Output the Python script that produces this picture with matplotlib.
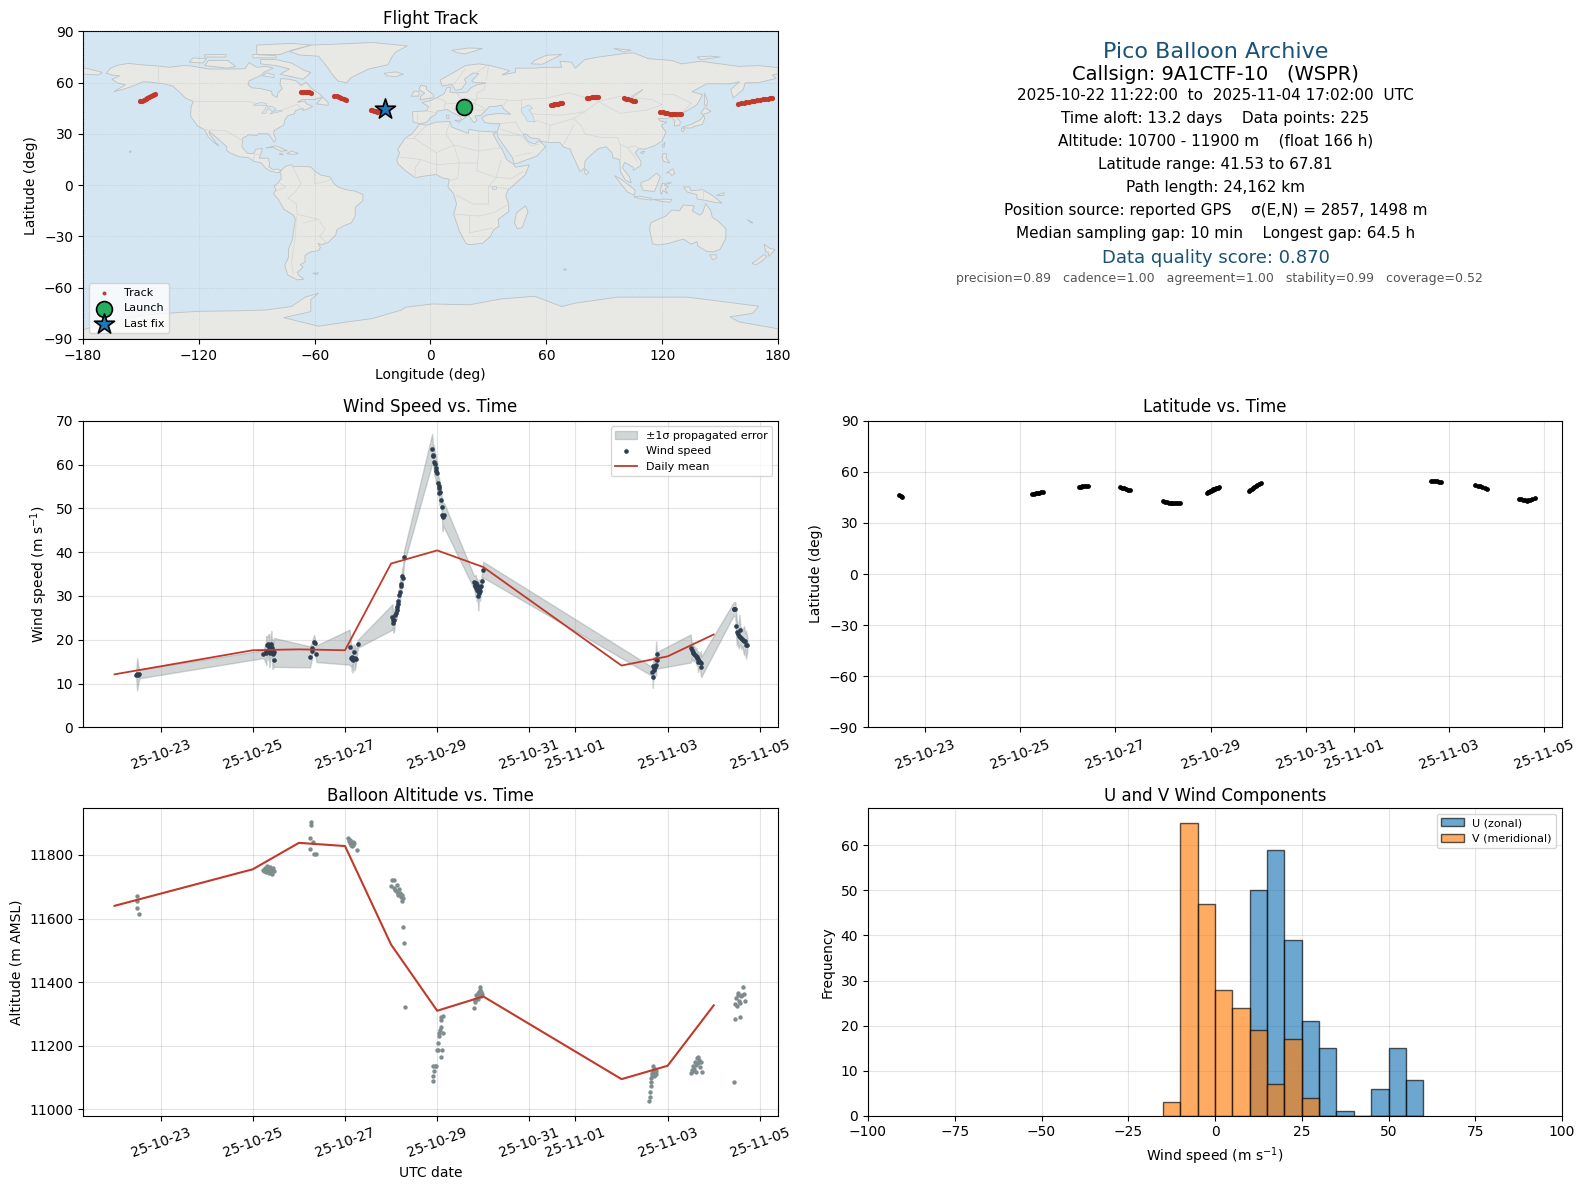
import datetime as dt
import numpy as np
import matplotlib
matplotlib.use("Agg")
import matplotlib.pyplot as plt
import matplotlib.dates as mdates
from matplotlib.patches import Polygon

W, H = 1586, 1189

# all times are days since 2025-10-22 00:00 UTC
wind_t = [0.47, 0.49, 0.51, 0.54,
          3.23, 3.29, 3.29, 3.31, 3.32, 3.34, 3.35, 3.36, 3.37, 3.38, 3.39, 3.40, 3.41, 3.42, 3.43, 3.44, 3.45, 3.46,
          4.24, 4.28, 4.29, 4.33, 4.34, 4.38,
          5.10, 5.14, 5.15, 5.16, 5.17, 5.18, 5.20, 5.21, 5.23, 5.28,
          6.03, 6.04, 6.05, 6.07, 6.08, 6.10, 6.12, 6.13, 6.15, 6.16, 6.18, 6.19, 6.21, 6.22, 6.24, 6.25, 6.28,
          6.89, 6.91, 6.92, 6.94, 6.95, 6.97, 6.98, 7.00, 7.01, 7.03, 7.04, 7.05, 7.07, 7.09, 7.10, 7.11, 7.12, 7.13, 7.15,
          7.80, 7.82, 7.83, 7.84, 7.85, 7.86, 7.87, 7.88, 7.89, 7.90, 7.91, 7.92, 7.93, 7.95, 7.97, 8.00,
          11.67, 11.68, 11.69, 11.70, 11.71, 11.72, 11.73, 11.74, 11.75, 11.76, 11.77,
          12.50, 12.52, 12.54, 12.56, 12.58, 12.60, 12.62, 12.63, 12.64, 12.65, 12.66, 12.68, 12.70, 12.72, 12.73,
          13.43, 13.45, 13.47, 13.49, 13.50, 13.52, 13.54, 13.56, 13.58, 13.60, 13.62, 13.64, 13.66, 13.68, 13.70, 13.73]
wind_v = [12.0, 12.1, 12.0, 12.2,
          16.7, 17.0, 17.5, 18.9, 19.1, 18.3, 18.9, 17.2, 16.9, 17.6, 18.5, 19.0, 18.2, 17.3, 16.7, 16.9, 15.4, 17.1,
          16.1, 17.4, 18.2, 19.5, 19.3, 16.8,
          18.3, 15.9, 15.5, 16.0, 15.7, 15.4, 17.3, 15.8, 15.7, 19.1,
          25.2, 24.4, 23.8, 24.6, 25.6, 26.2, 26.8, 27.4, 28.2, 28.9, 30.2, 30.8, 32.7, 32.2, 34.6, 34.2, 38.9,
          63.6, 62.3, 61.9, 60.6, 60.2, 59.2, 58.6, 58.0, 55.7, 55.0, 54.6, 53.4, 53.8, 51.8, 50.3, 48.6, 48.2, 48.0, 48.4,
          33.1, 32.6, 32.2, 33.0, 31.8, 31.4, 32.4, 31.2, 30.1, 30.7, 31.5, 32.0, 31.1, 32.2, 33.5, 36.0,
          12.7, 11.4, 14.0, 13.6, 13.2, 14.0, 13.7, 14.2, 15.7, 16.8, 15.3,
          18.0, 17.6, 17.3, 17.0, 16.8, 16.5, 16.3, 16.0, 15.8, 15.5, 15.0, 15.2, 15.0, 14.6, 13.8,
          27.0, 27.0, 27.0, 23.1, 21.7, 21.3, 20.8, 22.3, 20.6, 20.4, 20.2, 20.0, 19.8, 19.6, 18.9, 18.9]
wind_sigma = [1.0, 3.7, 2.2, 1.0,
              0.9, 2.5, 3.3, 2.0, 1.5, 3.0, 2.4, 3.4, 2.2, 1.8, 2.6, 3.0, 2.1, 2.8, 3.4, 2.6, 1.8, 3.3,
              2.4, 1.8, 1.5, 1.6, 1.3, 1.9,
              4.0, 2.2, 2.8, 1.6, 3.2, 1.5, 1.6, 2.8, 1.8, 0.9,
              2.9, 1.5, 2.2, 2.4, 1.4, 1.8, 2.0, 1.6, 1.5, 2.2, 1.6, 2.3, 1.8, 1.3, 1.9, 1.4, 1.4,
              3.4, 2.0, 2.6, 3.2, 2.4, 3.2, 2.2, 2.8, 2.5, 1.8, 2.4, 2.6, 1.7, 1.8, 1.6, 2.6, 3.4, 2.0, 2.8,
              1.5, 2.0, 2.4, 1.8, 1.5, 2.6, 1.4, 2.0, 3.4, 2.2, 1.6, 1.8, 2.2, 1.3, 1.5, 1.8,
              1.0, 2.4, 1.6, 2.6, 1.4, 1.5, 1.4, 2.0, 3.9, 1.2, 1.9,
              3.2, 1.6, 2.2, 1.4, 1.8, 1.2, 1.9, 1.4, 1.7, 1.5, 2.4, 1.6, 1.4, 2.8, 2.3,
              1.5, 1.6, 1.6, 2.6, 3.0, 1.8, 2.8, 3.4, 2.0, 2.5, 1.7, 2.6, 3.3, 1.8, 3.2, 1.6]

day_t = [0, 3, 4, 5, 6, 7, 8, 11, 12, 13]
day_wind = [12.1, 17.6, 17.8, 17.6, 37.4, 40.4, 36.6, 14.1, 16.2, 21.2]
day_alt = [11640, 11755, 11838, 11828, 11518, 11310, 11355, 11095, 11137, 11327]

alt_t = [0.48, 0.49, 0.49, 0.54,
         3.21, 3.24, 3.26, 3.28, 3.30, 3.31, 3.32, 3.34, 3.35, 3.37, 3.38, 3.39, 3.41, 3.42, 3.44, 3.46,
         4.27, 4.27, 4.25, 4.31, 4.23, 4.33, 4.36,
         5.07, 5.08, 5.10, 5.11, 5.13, 5.14, 5.15, 5.16, 5.17, 5.18, 5.20, 5.27,
         5.99, 6.03, 6.06, 6.06, 6.09, 6.13, 6.13, 6.16, 6.18, 6.20, 6.21, 6.23, 6.25, 6.24, 6.25, 6.28, 6.30,
         6.91, 6.92, 6.93, 6.91, 6.95, 6.98, 6.99, 7.01, 7.02, 7.03, 7.05, 7.06, 7.08, 7.09, 7.13, 7.08, 7.13, 7.08, 7.11,
         7.80, 7.82, 7.83, 7.85, 7.86, 7.88, 7.89, 7.90, 7.91, 7.92, 7.93, 7.94, 7.95, 7.97,
         11.59, 11.61, 11.62, 11.63, 11.64, 11.65, 11.66, 11.67, 11.68, 11.69, 11.70, 11.71, 11.72, 11.73, 11.74, 11.75,
         12.50, 12.52, 12.54, 12.55, 12.57, 12.59, 12.61, 12.62, 12.64, 12.65, 12.67, 12.69, 12.70, 12.72, 12.74,
         13.44, 13.46, 13.47, 13.48, 13.50, 13.52, 13.53, 13.55, 13.56, 13.58, 13.60, 13.62, 13.63, 13.65, 13.67]
alt_v = [11670, 11655, 11632, 11614,
         11752, 11748, 11758, 11745, 11765, 11755, 11748, 11760, 11742, 11750, 11762, 11745, 11739, 11753, 11760, 11750,
         11903, 11893, 11852, 11840, 11820, 11802, 11802,
         11852, 11844, 11838, 11848, 11830, 11842, 11835, 11828, 11840, 11832, 11836, 11815,
         11702, 11720, 11722, 11695, 11690, 11705, 11682, 11675, 11692, 11680, 11668, 11675, 11664, 11655, 11573, 11523, 11322,
         11088, 11105, 11120, 11137, 11137, 11137, 11187, 11187, 11208, 11230, 11240, 11250, 11260, 11280, 11293, 11290, 11240, 11165, 11187,
         11318, 11338, 11345, 11360, 11352, 11365, 11348, 11370, 11362, 11375, 11385, 11368, 11355, 11362,
         11027, 11040, 11056, 11072, 11087, 11100, 11108, 11115, 11125, 11135, 11105, 11118, 11108, 11128, 11112, 11120,
         11115, 11125, 11122, 11135, 11128, 11150, 11138, 11118, 11160, 11145, 11165, 11155, 11132, 11150, 11118,
         11086, 11284, 11330, 11350, 11325, 11360, 11366, 11340, 11335, 11291, 11355, 11360, 11385, 11362, 11342]

track_t = [0.46, 0.50, 0.53,
           3.25, 3.29, 3.33, 3.37, 3.41, 3.45, 3.48,
           4.24, 4.28, 4.31, 4.34, 4.38, 4.42,
           5.10, 5.14, 5.18, 5.22, 5.26, 5.30,
           6.00, 6.04, 6.08, 6.12, 6.16, 6.20, 6.24, 6.28, 6.32, 6.36,
           6.92, 6.94, 6.96, 6.98, 7.00, 7.02, 7.04, 7.06, 7.08, 7.10, 7.12, 7.14, 7.16, 7.17,
           7.80, 7.83, 7.86, 7.89, 7.92, 7.95, 7.98, 8.01, 8.05,
           11.63, 11.67, 11.71, 11.75, 11.79, 11.83,
           12.55, 12.60, 12.65, 12.70, 12.75, 12.80,
           13.48, 13.52, 13.56, 13.60, 13.64, 13.66, 13.70, 13.75, 13.80]
track_lat = [46.4, 45.8, 45.2,
             47.0, 47.1, 47.4, 47.5, 47.8, 47.9, 48.0,
             51.0, 51.3, 51.5, 51.6, 51.7, 51.9,
             51.0, 50.7, 50.3, 50.0, 49.5, 49.1,
             43.0, 42.6, 42.3, 42.0, 41.9, 41.8, 41.6, 41.6, 41.6, 41.7,
             47.5, 47.9, 48.2, 48.6, 48.9, 49.2, 49.5, 49.8, 50.0, 50.2, 50.4, 50.6, 50.8, 51.0,
             49.0, 49.5, 50.0, 50.6, 51.0, 51.6, 52.2, 52.7, 53.3,
             54.6, 54.6, 54.5, 54.4, 54.3, 54.2,
             52.4, 52.0, 51.6, 51.2, 50.6, 50.0,
             44.1, 43.8, 43.5, 43.2, 43.1, 43.2, 43.6, 44.0, 44.4]
track_lon = [17.0, 17.2, 17.4,
             62.3, 63.2, 64.2, 65.1, 66.1, 67.0, 67.9,
             81.0, 82.2, 83.4, 84.6, 85.8, 87.0,
             100.0, 101.2, 102.4, 103.6, 104.8, 106.0,
             119.0, 120.2, 121.4, 122.6, 123.8, 125.0, 126.2, 127.4, 128.6, 130.0,
             159.5, 160.8, 162.2, 163.6, 165.0, 166.4, 167.8, 169.2, 170.6, 172.0, 173.4, 174.8, 176.0, 177.0,
             -150.6, -149.6, -148.6, -147.6, -146.6, -145.6, -144.6, -143.6, -142.6,
             -67.0, -66.0, -65.0, -64.0, -63.0, -62.0,
             -49.8, -48.6, -47.4, -46.2, -45.0, -44.0,
             -31.0, -30.2, -29.4, -28.6, -27.8, -27.0, -26.0, -25.0, -24.0]
launch = (17.3, 45.8)
last_fix = (-23.8, 44.3)

hist_edges = [-15, -10, -5, 0, 5, 10, 15, 20, 25, 30, 35, 40, 45, 50, 55]
u_counts = [0, 0, 0, 0, 0, 50, 59, 39, 21, 15, 1, 0, 6, 15, 8]
v_counts = [3, 65, 47, 28, 24, 19, 7, 17, 4, 0, 0, 0, 0, 0, 0]

tick_days = [1, 3, 5, 7, 9, 10, 12, 14]

info_lines = [("Pico Balloon Archive", 51, 16, "#1a5276"),
              ("Callsign: 9A1CTF-10   (WSPR)", 74, 14, "black"),
              ("2025-10-22 11:22:00  to  2025-11-04 17:02:00  UTC", 94, 11, "black"),
              ("Time aloft: 13.2 days    Data points: 225", 117, 11, "black"),
              ("Altitude: 10700 - 11900 m    (float 166 h)", 139, 11, "black"),
              ("Latitude range: 41.53 to 67.81", 163, 11, "black"),
              ("Path length: 24,162 km", 185, 11, "black"),
              ("Position source: reported GPS    \u03c3(E,N) = 2857, 1498 m", 208, 11, "black"),
              ("Median sampling gap: 10 min    Longest gap: 64.5 h", 231, 11, "black"),
              ("Data quality score: 0.870", 255, 13, "#1a5276"),
              ("  precision=0.89   cadence=1.00   agreement=1.00   stability=0.99   coverage=0.52", 275, 9, "#555555")]

# rough coastlines, lon/lat
land = [
    # north america
    [(-168, 65.5), (-166, 68.3), (-162, 70.2), (-156.5, 71.3), (-150, 70.5), (-141, 69.7), (-135, 69), (-128, 70), (-124, 69.8),
     (-115, 68), (-108, 68), (-102, 68), (-96, 68.2), (-94, 71.8), (-90, 69), (-85, 69.5), (-81.5, 68.5), (-86, 66.3), (-88, 64.2),
     (-94, 61), (-94.5, 58.8), (-92.5, 57), (-88, 56.5), (-82.3, 55), (-82, 52.9), (-79.5, 51.3), (-79, 54), (-76.8, 56.5), (-78, 59),
     (-77.5, 62.4), (-73, 62), (-69.5, 61), (-67, 58.3), (-64.5, 60.3), (-61.5, 56.5), (-57, 53), (-56, 51.7), (-60, 50.2), (-66.5, 50.2),
     (-69, 48.5), (-65, 49.2), (-64.5, 47.8), (-61, 46), (-64, 44.5), (-66, 43.7), (-66, 45), (-70, 43.7), (-70.5, 41.8), (-74, 40.6),
     (-75.5, 38), (-76, 35.2), (-78, 33.9), (-81, 32), (-81.3, 30), (-80, 26.8), (-81, 25.2), (-82.7, 28), (-84, 30), (-89, 30.2),
     (-90, 29.1), (-94, 29.5), (-97.2, 27.6), (-97.7, 22.5), (-95, 18.7), (-91.5, 18.5), (-90.5, 21), (-87, 21.5), (-88, 18), (-88.8, 15.8),
     (-84, 15.8), (-83.3, 12.5), (-83.7, 10.8), (-81.5, 9), (-79.5, 9.5), (-77.3, 8.6), (-78.3, 7.5), (-80.5, 7.5), (-83, 8.3), (-85.5, 10),
     (-87.5, 13), (-91.5, 14), (-94.5, 16.2), (-99, 16.6), (-104, 19), (-105.6, 20.5), (-105.5, 22.5), (-109, 26), (-112.5, 29.5),
     (-114.7, 31.7), (-114.5, 30), (-111, 24.5), (-109.5, 23), (-112, 24.8), (-115, 28), (-117, 32.5), (-120.5, 34.5), (-122.5, 37.5),
     (-124.3, 40.3), (-124, 46), (-122.8, 49), (-127, 51), (-130, 54.5), (-133.5, 58), (-138, 59.3), (-145, 60.3), (-149, 60.5), (-152, 59),
     (-158, 56.5), (-164, 54.7), (-158, 58.8), (-162, 59.8), (-165, 62), (-161, 64), (-165, 64.5)],
    # greenland
    [(-73, 78.3), (-68, 76.2), (-58, 75.5), (-54, 70), (-51, 65), (-48, 61), (-43.5, 59.9), (-41, 63), (-32, 68), (-22, 70.5), (-20, 75),
     (-18, 78), (-12, 81.5), (-30, 83.5), (-50, 82.5), (-62, 82)],
    # arctic canada
    [(-80, 73.5), (-72, 71.5), (-65, 67), (-62, 66), (-66, 62), (-72, 63.5), (-78, 65), (-73, 68), (-80, 70), (-88, 71), (-88, 73.5)],
    [(-117, 70), (-105, 68.5), (-101, 69.5), (-105, 73), (-115, 73)],
    [(-125, 72), (-118, 71.5), (-116, 74), (-123, 74.5)],
    [(-90, 76.5), (-78, 76.5), (-72, 79), (-62, 82), (-72, 83), (-90, 82)],
    [(-92, 74.5), (-80, 74.5), (-80, 75.8), (-92, 76.5)],
    [(-117, 75), (-106, 75), (-106, 76.5), (-117, 76.3)],
    [(-87, 64), (-81, 63), (-81, 64.5), (-85, 65.8)],
    [(-59, 47.6), (-53, 46.7), (-53, 48.5), (-56, 51.5)],
    # caribbean and hawaii
    [(-85, 21.8), (-80, 23), (-74.2, 20.2), (-77.5, 19.9), (-82, 22.4)],
    [(-74.4, 18.4), (-72, 20), (-68.4, 18.6), (-71, 18)],
    [(-78.3, 18.4), (-76.3, 18.2), (-77, 17.8)],
    [(-156, 20.2), (-155, 19.7), (-155.7, 19)],
    # south america
    [(-77.3, 8.6), (-75.5, 10.8), (-72, 12.2), (-71.5, 10.8), (-68, 11), (-62, 10.7), (-60, 8.4), (-57, 6), (-52, 4.8), (-50, 1), (-48, -1),
     (-44, -2.6), (-39, -3.5), (-35, -5.5), (-35, -9), (-39, -13), (-39, -18), (-41, -22), (-45, -23.8), (-48.5, -26), (-49, -29),
     (-53, -33.5), (-56.5, -34.8), (-58.3, -34), (-57, -36.5), (-58, -38.3), (-62, -39), (-65, -41), (-65, -45), (-67.5, -46.5), (-66, -48),
     (-69, -51), (-68.3, -52.7), (-65.5, -55), (-69, -55.4), (-74, -52.5), (-75.5, -47), (-73.5, -42), (-73.5, -37), (-71.5, -32), (-71, -27),
     (-70, -20), (-71, -17.5), (-76, -14), (-79, -8), (-81.3, -5), (-80, -2.5), (-81, -0.5), (-78.8, 1.5), (-77.3, 4), (-77.5, 7), (-78.3, 7.5)],
    [(-61, -51.5), (-58, -51.3), (-59, -52.3)],
    # africa
    [(-5.8, 35.8), (-2, 35.1), (3, 36.9), (10, 37.3), (11, 34), (15, 32.3), (19.5, 30.3), (20, 32.7), (25, 31.7), (32, 31.2), (34.3, 31.2),
     (32.5, 29.9), (35, 24.5), (37.2, 20.8), (39.5, 15), (43.2, 12), (44, 10.5), (51.2, 11.9), (49, 6), (44, 1), (40, -3), (39, -6.5),
     (40.5, -11), (40.5, -15.5), (35, -20), (35.5, -24), (32.8, -26), (31, -30), (27, -34), (20, -34.8), (18.3, -34), (15, -27), (12, -17),
     (13.5, -11), (12, -5), (9, -1), (9.7, 3.5), (6, 4.3), (3, 6.3), (-4, 5.2), (-8, 4.4), (-13, 8.5), (-16.8, 12.5), (-17.5, 14.7),
     (-16, 19), (-17, 21), (-13, 27.7), (-9.7, 30), (-6.8, 34)],
    [(49.3, -12), (50.5, -15.5), (47.5, -24.8), (45, -25.5), (43.5, -22), (44.5, -16.2)],
    # eurasia
    [(-9, 37), (-9.3, 43), (-2, 43.5), (-1, 46), (-4.5, 48.4), (0, 49.5), (3, 51), (7, 53.5), (8.5, 57), (10.5, 57.5), (10, 54.5), (14, 54),
     (19, 54.5), (21, 57), (24, 58.7), (29, 59.9), (23, 60), (21.3, 61), (25, 65.2), (22, 65.7), (17.5, 62), (18.5, 60), (16, 56.2), (13, 55.5),
     (11, 59), (6, 58), (5, 61.5), (12, 66), (18, 70), (25, 71), (31, 70), (41, 67), (37, 64.5), (44, 66), (44, 68.5), (54, 68.5), (60, 69),
     (68, 69), (67, 72.5), (73, 72), (75, 68.5), (80, 73.5), (87, 75), (100, 77), (105, 77.5), (113, 74), (125, 73), (130, 71), (140, 72.5),
     (150, 71), (160, 69.5), (170, 70), (180, 68.8), (180, 65), (177, 64.5), (179, 62.5), (170, 60), (163, 59.9), (162, 56), (156.8, 51),
     (155.5, 56), (160, 60.5), (155, 59.3), (143, 59.3), (135.5, 54.7), (141, 53), (138, 47), (132, 43), (130, 42.3), (127.5, 39.8),
     (129.5, 37), (129, 35.2), (126.3, 34.5), (126.5, 37.5), (125, 39.7), (121.5, 39), (118, 39), (119, 37.5), (122.5, 37), (119.5, 35),
     (122, 31), (120, 26), (116, 23), (110.5, 21), (108, 21.5), (106, 19), (109, 14), (109, 11.5), (105, 8.7), (105, 10.5), (100.5, 13.4),
     (99.5, 10), (103, 5), (104, 1.3), (101, 3), (98.3, 8), (98, 15), (94.5, 16), (94, 19), (91, 22.5), (87, 21.5), (82, 16.5), (80, 14),
     (79.8, 10), (77.5, 8), (73, 19), (72.5, 21), (69, 22.3), (67, 25), (61.5, 25), (57, 25.7), (56.5, 27), (52, 27.7), (49, 30.2), (48, 29.5),
     (50, 26.5), (51.3, 25), (54, 24.2), (56.3, 26), (59.7, 22.5), (55, 17), (52, 15.8), (45, 12.8), (43.3, 12.7), (42.5, 16), (39, 21.5),
     (35, 28), (34.5, 31.2), (36, 36), (32, 36), (28, 36.7), (26.5, 39.5), (29, 41), (35, 42), (41.5, 41.5), (38, 44.5), (37, 46.8), (33, 46),
     (30.5, 46), (28, 43), (26, 40.8), (23, 40.5), (24, 38), (22.5, 36.5), (19.5, 41), (19, 42), (13.8, 45.5), (12.3, 44.5), (16, 41.5),
     (18.5, 40), (16, 38), (15.7, 40), (10.5, 43), (8.5, 44.3), (3.5, 43.4), (3, 41.8), (0, 39.5), (-2, 36.8), (-5.5, 36)],
    [(-180, 65), (-172, 64.5), (-170, 66), (-175, 67.5), (-180, 68.8)],
    # european and arctic islands
    [(-5.5, 50), (1.5, 51.2), (1.5, 53), (-2, 56), (-2, 57.7), (-5, 58.6), (-6, 56), (-3, 54), (-5, 52)],
    [(-10, 52), (-6, 52.2), (-6, 55), (-8.5, 55)],
    [(-24, 65.5), (-18, 66.3), (-14, 65), (-18, 63.5), (-22.5, 64)],
    [(11, 79), (20, 80.3), (27, 80), (18, 76.8), (14, 77.5)],
    [(52, 71), (58, 70.8), (68, 76.5), (60, 76), (54, 73)],
    [(95, 80), (104, 79), (100, 78)],
    [(138, 75), (145, 75.5), (150, 75), (140, 73.5)],
    [(12.5, 38), (15.5, 38), (15, 36.7)],
    [(8.3, 41), (9.7, 41), (9.5, 39), (8.5, 39)],
    # asia islands
    [(142, 54), (143.5, 49), (143, 46.2), (142, 47)],
    [(130.5, 34), (135, 35.6), (140, 38.5), (141.5, 41), (142, 39), (140.8, 35.5), (137, 34.6), (135, 33.5), (132, 33.5)],
    [(140, 42), (142, 45.4), (145.3, 43.3), (143, 42), (141, 41.5)],
    [(130, 33.5), (131.8, 33), (130.7, 31.2), (130, 32)],
    [(120, 23), (121.5, 25.2), (121, 22)],
    [(108.7, 19.2), (111, 20), (110, 18.3)],
    [(80, 9.7), (82, 7.5), (80.7, 6), (79.8, 7.5)],
    [(120.5, 18.5), (122.3, 18.4), (122, 16), (124, 13), (120.7, 14), (120, 16)],
    [(122, 7), (125.5, 9.7), (126.5, 7), (125, 5.7), (123.5, 7.5)],
    [(95.3, 5.6), (98, 4), (104, -1), (106, -3), (105.7, -5.9), (102, -4), (98.5, 1)],
    [(105.2, -6.8), (108.5, -6.5), (114.5, -7.7), (114.5, -8.7), (108, -7.8)],
    [(109, 1.5), (113, 3.2), (117, 7), (119, 5), (117.7, 1), (116, -3.7), (110.2, -3), (109, 0)],
    [(119.5, -5.5), (119, -3), (120, 1), (125, 1.5), (121, 0), (123.3, -1), (121.5, -2), (122.8, -5), (120.5, -3)],
    [(131, -1), (134, -1), (135, -3.3), (141, -2.6), (146, -6), (151, -10.5), (147, -10), (143, -9), (138, -8), (138, -5.5), (133, -4)],
    [(115, -8.3), (122, -8.2), (125, -8.3), (124, -10), (120, -9.5)],
    [(148, -6), (152, -4.3), (152, -6)],
    # oceania
    [(114, -22), (113.5, -26), (115, -34.3), (118, -35), (123.5, -34), (131, -31.5), (135, -34.5), (138, -33), (138.5, -35.5), (143, -38.7),
     (146.5, -39), (150, -37.5), (153, -31), (153, -25.5), (149, -21), (146, -18.8), (145, -14.5), (142.5, -10.8), (141, -16), (139.5, -17.5),
     (135.5, -15), (136.8, -12.2), (131, -11.5), (129, -15), (125, -14.5), (122, -18), (117, -20.5)],
    [(144.7, -40.7), (148, -40.8), (148, -43), (146, -43.5)],
    [(172.7, -34.5), (175.5, -36.8), (178.5, -37.7), (175.3, -41.6), (174.8, -39), (173.8, -39.3)],
    [(172.8, -40.5), (174.3, -41.7), (171, -45), (168.5, -46.6), (166.5, -45.8), (170, -43)],
    [(164, -20), (167, -22), (166, -22)],
    [(68.8, -49), (70.5, -49), (69.5, -50)],
    # antarctica
    [(-180, -84.5), (-158, -78), (-145, -75.5), (-120, -73.8), (-100, -73.5), (-85, -73), (-72, -71), (-65, -65.5), (-58, -63.2), (-62, -67),
     (-62, -74), (-76, -77.5), (-58, -82.5), (-43, -80), (-30, -78), (-15, -73), (-13, -71.4), (1, -69.5), (20, -70), (37, -66.5), (54, -65),
     (68, -71), (75, -69), (97, -65.5), (133, -65.5), (170, -70.8), (167, -75), (155, -77), (160, -80), (180, -84), (180, -90), (-180, -90)],
]
lakes = [
    [(47, 45), (51, 47), (53, 45), (51, 44), (53, 41), (54, 37), (50, 37.5), (49, 40), (47, 43)],
    [(-92, 46.8), (-88, 48.5), (-85, 47.8), (-85, 46.6), (-88, 46.8)],
    [(-87.5, 42), (-86, 44), (-85, 46), (-82, 46), (-80, 44.7), (-82, 43), (-84, 45), (-85.5, 42)],
    [(-83, 41.7), (-79, 42.8), (-76.5, 43.5), (-79.5, 43.8), (-83, 42)],
    [(32, -0.5), (34, -0.5), (34, -2.5), (32, -2.5)],
    [(104, 52), (110, 56), (109, 55), (105, 51.5)],
]
# a few country borders
borders = [
    [(-141, 69.7), (-141, 60.3)], [(-122.8, 49), (-95, 49), (-84, 46.5), (-79, 43), (-74.5, 45), (-69, 47.3), (-67, 45)],
    [(-117, 32.5), (-106, 31.8), (-97.2, 26)], [(-92, 14.5), (-91, 17.8), (-88.5, 17.9)],
    [(-72, 12), (-67, 1), (-70, -4), (-74, -7.5), (-69.5, -11), (-69, -17)], [(-60, 8.4), (-60, 1), (-54, 2.2), (-51, 4)],
    [(-69, -17), (-58, -20), (-54.5, -26), (-57.5, -30), (-53.5, -33.8)], [(-69.5, -18), (-70, -30), (-72, -45), (-71, -52)],
    [(-66, -22), (-58, -20)], [(-80, -3.5), (-75, -1), (-78, 1.2)],
    [(-8.7, 27.7), (-13, 27.7)], [(-2, 35), (-8.7, 27.7), (3, 19), (12, 23.5), (25, 20), (37, 22)], [(25, 31.5), (25, 20), (24, 8.5), (34, 4.5)],
    [(10, 37), (8, 30), (12, 23.5), (15, 13), (14, 4), (9.7, 2.5)], [(3, 19), (3, 6.3)], [(-16, 16.5), (-5, 15), (3, 12), (15, 13), (24, 13)],
    [(-8, 4.4), (-8, 10), (-5, 15)], [(34, 4.5), (42, 4), (48, 8)], [(36.5, 14.5), (34, 4.5), (30, -1), (30, -11), (22, -11), (13.5, -6)],
    [(12, -17), (25, -18), (33, -16), (40.5, -11)], [(20, -28), (20, -18)], [(20, -28), (32, -25)], [(41, -2), (30, -1)],
    [(-1.8, 43.3), (3, 42.5)], [(-7, 42), (-7, 37)], [(3, 51), (8, 49), (7.5, 47.6), (7, 44)], [(14, 54), (15, 51), (24, 50), (22.5, 48), (28, 45)],
    [(7.5, 47.6), (17, 48), (22.5, 48)], [(13.8, 46), (19, 46), (22, 44), (28, 44)], [(24, 50), (24, 54), (28, 56), (28, 59.5)], [(12, 59), (18, 68)],
    [(24, 66), (29, 70)], [(29, 62), (30, 69.7)], [(24, 51), (40, 50), (38, 47)], [(47, 50), (60, 51), (72, 54), (87, 49), (80, 43), (68, 41), (55, 41.5), (53, 42)],
    [(47, 45), (47, 50), (40, 50)], [(87, 49), (98, 52), (115, 50), (120, 47), (112, 44), (98, 42), (87, 49)], [(120, 53), (126, 53), (135, 48), (131, 43)],
    [(80, 43), (74, 39), (78, 35), (80, 30), (88, 28), (97, 28), (98, 24), (102, 22), (106, 23), (108, 21.5)], [(74, 39), (62, 35), (61, 25)],
    [(74, 35), (71, 28), (69, 24)], [(62, 35), (55, 38), (54, 37)], [(44, 37), (46, 33), (48, 30)], [(36, 36), (44, 37)], [(36, 33), (47, 29)],
    [(34.5, 29.5), (47, 29), (52, 23), (56, 24)], [(52, 19), (44, 17)], [(102, 22), (105, 18), (107, 14)], [(98, 24), (98, 16)],
    [(141, -2.6), (141, -9)], [(125, 40), (130, 42.3)], [(126.5, 38), (128.5, 38.5)],
]

ocean_color = "#d4e6f1"
land_color = "#e8e8e4"
date0 = mdates.date2num(dt.datetime(2025, 10, 22))


def to_dates(days):
    return date0 + np.array(days, dtype=float)


def make_axes(left, right, top, bottom):
    return fig.add_axes([left / W, 1 - bottom / H, (right - left) / W, (bottom - top) / H])


def date_axis(ax, start=-0.685, end=14.395):
    ax.set_xlim(date0 + start, date0 + end)
    ax.set_xticks(to_dates(tick_days))
    ax.xaxis.set_major_formatter(mdates.DateFormatter("%y-%m-%d"))
    ax.tick_params(axis="x", labelrotation=20)
    ax.grid(True, color="#b0b0b0", alpha=0.35)
    ax.set_axisbelow(True)


fig = plt.figure(figsize=(W / 100, H / 100), dpi=100)

# map
ax = make_axes(83, 778, 31.4, 339)
ax.set_facecolor(ocean_color)
for poly in land:
    ax.add_patch(Polygon(poly, closed=True, fc=land_color, ec="#bcc2c4", lw=0.6, zorder=1))
for poly in lakes:
    ax.add_patch(Polygon(poly, closed=True, fc=ocean_color, ec="#bcc2c4", lw=0.4, zorder=1.2))
for line in borders:
    xs, ys = zip(*line)
    ax.plot(xs, ys, color="#d4d6d4", lw=0.5, zorder=1.1)
ax.grid(True, color="#8a9499", alpha=0.3, lw=0.6, ls=":", zorder=1.5)
ax.set_axisbelow(False)
ax.scatter(track_lon, track_lat, s=14, color="#c0392b", linewidths=0, zorder=3)
ax.scatter([], [], s=8, color="#c0392b", linewidths=0, label="Track")
ax.scatter(launch[0], launch[1], s=130, color="#27ae60", edgecolors="black", linewidths=1.2, label="Launch", zorder=4)
ax.scatter(last_fix[0], last_fix[1], s=230, marker="*", color="#1f77b4", edgecolors="black", linewidths=1.2, label="Last fix", zorder=5)
ax.set_xlim(-180, 180)
ax.set_ylim(-90, 90)
ax.set_xticks(np.arange(-180, 181, 60))
ax.set_yticks(np.arange(-90, 91, 30))
ax.set_xlabel("Longitude (deg)")
ax.set_ylabel("Latitude (deg)")
ax.set_title("Flight Track", fontsize=12, pad=5)
ax.legend(loc="lower left", fontsize=8)

# summary text
for text, y, size, color in info_lines:
    fig.text(1215.5 / W, 1 - y * H / 1175.5 / H, text, ha="center", va="center", fontsize=size, color=color)

# wind speed
ax = make_axes(83, 778, 420.8, 727.3)
wt = to_dates(wind_t)
wv = np.array(wind_v)
ws = np.array(wind_sigma)
ax.fill_between(wt, wv - ws, wv + ws, color="#7f8c8d", alpha=0.35, label="\u00b11\u03c3 propagated error")
ax.scatter(wt, wv, s=11, color="#2c3e50", linewidths=0, label="Wind speed", zorder=3)
ax.plot(to_dates(day_t), day_wind, color="#c0392b", lw=1.3, label="Daily mean", zorder=4)
date_axis(ax)
ax.set_ylim(0, 70)
ax.set_ylabel("Wind speed (m s$^{-1}$)")
ax.set_title("Wind Speed vs. Time", fontsize=12)
ax.legend(loc="upper right", fontsize=8)

# latitude, axis starts from the first fix here and not from the first daily mean
ax = make_axes(868, 1562, 420.8, 727.3)
ax.scatter(to_dates(track_t), track_lat, s=12, color="black", linewidths=0, zorder=3)
date_axis(ax, -0.188, 14.372)
ax.set_ylim(-90, 90)
ax.set_yticks(np.arange(-90, 91, 30))
ax.set_ylabel("Latitude (deg)")
ax.set_title("Latitude vs. Time", fontsize=12)

# altitude
ax = make_axes(83, 778, 808.2, 1115.7)
ax.scatter(to_dates(alt_t), alt_v, s=10, color="#7f8c8d", linewidths=0, zorder=3)
ax.plot(to_dates(day_t), day_alt, color="#c0392b", lw=1.5, zorder=4)
date_axis(ax)
ax.set_ylim(10980, 11947)
ax.set_yticks([11000, 11200, 11400, 11600, 11800])
ax.set_xlabel("UTC date")
ax.set_ylabel("Altitude (m AMSL)")
ax.set_title("Balloon Altitude vs. Time", fontsize=12, pad=5)

# u/v histogram
ax = make_axes(868, 1562, 808.2, 1115.7)
ax.bar(hist_edges, u_counts, width=5, align="edge", color="#1f77b4", alpha=0.65, edgecolor="black", label="U (zonal)", zorder=2)
ax.bar(hist_edges, v_counts, width=5, align="edge", color="#ff7f0e", alpha=0.65, edgecolor="black", label="V (meridional)", zorder=3)
ax.set_xlim(-100, 100)
ax.set_ylim(0, 68.25)
ax.grid(True, color="#b0b0b0", alpha=0.35)
ax.set_axisbelow(True)
ax.set_xlabel("Wind speed (m s$^{-1}$)")
ax.set_ylabel("Frequency")
ax.set_title("U and V Wind Components", fontsize=12, pad=5)
ax.legend(loc="upper right", fontsize=8)

fig.savefig("out.png", dpi=100)
